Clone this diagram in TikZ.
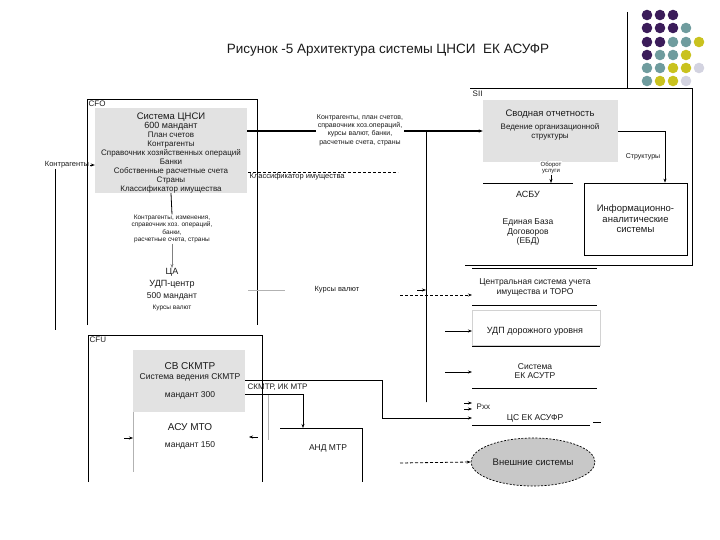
\documentclass[tikz,border=0pt]{standalone}
\usepackage{fontspec}
\setmainfont{Liberation Sans}
\usetikzlibrary{arrows.meta,shapes.geometric}
\definecolor{dpurple}{HTML}{3B1C5A}
\definecolor{dteal}{HTML}{6F9C9E}
\definecolor{dyellow}{HTML}{C9C21E}
\definecolor{dlight}{HTML}{D3D3E0}
\definecolor{boxgrey}{HTML}{E2E2E2}
\definecolor{extgrey}{HTML}{C8C8C8}
\definecolor{txt}{HTML}{1A1A1A}
\begin{document}
\begin{tikzpicture}[x=1pt,y=-1pt,
  tA/.style={font=\fontsize{13.5}{15}\selectfont},
  tTen/.style={font=\fontsize{10}{11.5}\selectfont},
  tNine/.style={font=\fontsize{9.5}{10.5}\selectfont},
  tNn/.style={font=\fontsize{9}{10}\selectfont},
  tEf/.style={font=\fontsize{8.5}{9.5}\selectfont},
  tE/.style={font=\fontsize{8}{9}\selectfont},
  tSf/.style={font=\fontsize{7.5}{8.5}\selectfont},
  tS/.style={font=\fontsize{7}{8.3}\selectfont},
  tSix/.style={font=\fontsize{6.5}{7.3}\selectfont},
  txtn/.style={inner sep=0.5pt, align=center, text=txt},
  gbox/.style={fill=boxgrey, draw=none, inner sep=0pt},
  ln/.style={draw=black, line width=0.8pt},
  faint/.style={draw=gray!60, line width=0.6pt},
  arr/.style={ln, -{Stealth[length=4pt,width=3pt]}},
  darr/.style={arr, dash pattern=on 3pt off 2pt},
  dotp/.style={fill=dpurple}, dott/.style={fill=dteal},
  doty/.style={fill=dyellow}, dotl/.style={fill=dlight}
]
\useasboundingbox (0,0) rectangle (720,540);

% decorative slide elements
\draw[ln] (627,12) -- (627,88);
\foreach \x/\y/\c in {647/15/dotp,660/15/dotp,673/15/dotp,
  647/28/dotp,660/28/dotp,673/28/dotp,686/28/dott,
  647/42/dotp,660/42/dotp,673/42/dott,686/42/dott,699/42/doty,
  647/55/dotp,660/55/dott,673/55/dott,686/55/doty,
  647/68/dott,660/68/dott,673/68/doty,686/68/doty,699/68/dotl,
  647/81/dott,660/81/doty,673/81/doty,686/81/dotl}
  {\fill[\c] (\x,\y) circle[radius=5.3pt];}

\node[tA,txtn] (title) at (388,50) {Рисунок -5 Архитектура системы ЦНСИ~~ЕК АСУФР};

% ---------- CFO ----------
\draw[ln] (87,325) -- (87,99) -- (257,99) -- (257,325);
\node[tE,txtn,anchor=west] (cfo) at (88,104) {CFO};
\node[gbox, minimum width=152pt, minimum height=85pt] (cnsi) at (171,150.5) {};
\node[txtn,font=\fontsize{8}{9}\selectfont] (cnsitxt) at (171,153)
 {{\fontsize{9.5}{10}\selectfont Система ЦНСИ}\\
  {\fontsize{9}{10}\selectfont 600 мандант}\\
  План счетов\\ Контрагенты\\ Справочник хозяйственных операций\\ Банки\\
  Собственные расчетные счета\\ Страны\\ Классификатор имущества};

\node[tSf,txtn] (kontrL) at (67,165) {Контрагенты};
\draw[arr] (kontrL.east) -- (cnsi.west |- kontrL.east);
\coordinate (lv0) at (55,169);
\coordinate (lv1) at (55,330);
\draw[ln, line width=0.6pt] (lv0) -- (lv1);

\node[tSix,txtn] (chg) at (172,229)
 {Контрагенты, изменения,\\справочник хоз. операций,\\банки,\\расчетные счета, страны};
\draw[ln] (cnsi.south) -- (chg.north);

\node[txtn] (ca) at (172,290)
 {{\fontsize{9}{10}\selectfont ЦА}\\[-0.5pt]
  {\fontsize{9}{10}\selectfont УДП-центр}\\[0.5pt]
  {\fontsize{8.5}{9.5}\selectfont 500 мандант}\\[-1pt]
  {\fontsize{6.5}{7.5}\selectfont Курсы валют}};
\draw[arr, draw=gray, line width=0.5pt] (chg.south) -- (ca.north);

\node[tS,txtn] (kontr) at (360,130)
 {Контрагенты, план счетов,\\справочник хоз.операций,\\курсы валют, банки,\\расчетные счета, страны};
\node[tSf,txtn,anchor=west] (klass) at (249,177) {Классификатор имущества};

\coordinate (k0) at (248,290);
\coordinate (k1) at (285,290);
\draw[faint] (k0) -- (k1);
\node[tSf,txtn] (kursy) at (337,290) {Курсы валют};

% ---------- SII ----------
\draw[ln] (470,88) -- (692,88) -- (692,265) -- (465,265);
\node[tE,txtn,anchor=west] (sii) at (472,94) {SII};
\node[gbox, minimum width=135pt, minimum height=62pt] (svod) at (550.5,131) {};
\node[tNine,txtn] (svod1) at (550,114) {Сводная отчетность};
\node[tE,txtn] (svod2) at (550,132) {Ведение организационной\\структуры};

\node[draw, line width=0.8pt, minimum width=103pt, minimum height=72pt, tNine, align=center, text=txt]
  (info) at (635.5,219) {Информационно-\\аналитические\\системы};
\coordinate (turn) at (665,131);
\draw[arr] (svod.east |- turn) -- (turn) -- (turn |- info.north);
\node[tS,txtn] (struct) at (643,157) {Структуры};

\coordinate (asbuL) at (483,183);
\coordinate (asbuR) at (573,183);
\draw[ln] (asbuL) -- (asbuR);
\node[font=\fontsize{6}{6.8}\selectfont,txtn,fill=white] (obor) at (551,168) {Оборот\\услуги};
\draw[arr, line width=0.5pt] (obor.south) -- (obor.south |- asbuL);
\node[tNn,txtn] (asbu) at (528,194) {АСБУ};
\node[tEf,txtn] (ebd) at (528,232) {Единая База\\Договоров\\(ЕБД)};

% ---------- right column ----------
\coordinate (r1a) at (472,268);
\coordinate (r1b) at (597,268);
\draw[ln] (r1a) -- (r1b);
\node[tEf,txtn] (central) at (535,287.5) {Центральная система учета\\имущества и ТОРО};
\coordinate (r2a) at (472,305);
\coordinate (r2b) at (597,305);
\draw[ln] (r2a) -- (r2b);

\node[draw=gray!35, line width=0.6pt, minimum width=128pt, minimum height=35pt, inner sep=0pt] (udpbox) at (536,327.5) {};
\node[tNn,txtn] (udp) at (535,331) {УДП дорожного уровня};
\coordinate (r3a) at (472,346);
\coordinate (r3b) at (600,346);
\draw[ln] (r3a) -- (r3b);

\node[tEf,txtn] (ekasutr) at (535,371) {Система\\ЕК АСУТР};
\coordinate (r4a) at (472,388);
\coordinate (r4b) at (597,388);
\draw[ln] (r4a) -- (r4b);

\node[tE,txtn,anchor=west] (pxx) at (476,407) {Pxx};
\node[tEf,txtn] (cs) at (535,418) {ЦС ЕК АСУФР};
\coordinate (r5a) at (472,425);
\coordinate (r5b) at (590,425);
\draw[ln] (r5a) -- (r5b);
\coordinate (r5c) at (593,422);
\coordinate (r5d) at (601,422);
\draw[ln] (r5c) -- (r5d);

\node[ellipse, draw, line width=0.7pt, dash pattern=on 2pt off 1.5pt, fill=extgrey,
  minimum width=124pt, minimum height=48pt, tNine, text=txt] (ext) at (533,462) {Внешние системы};

% ---------- CFU ----------
\draw[ln] (88,482) -- (88,335) -- (262,335) -- (262,482);
\node[tE,txtn,anchor=west] (cfu) at (89,340) {CFU};
\node[gbox, minimum width=112pt, minimum height=62pt] (skmtr) at (189,381) {};
\node[tTen,txtn] (skm1) at (190,366) {СВ СКМТР};
\node[tEf,txtn] (skm2) at (190,377) {Система ведения СКМТР};
\node[tEf,txtn] (skm3) at (190,395) {мандант 300};

\coordinate (mv0) at (133,412);
\coordinate (mv1) at (133,472);
\draw[faint] (mv0) -- (mv1);
\node[tTen,txtn] (asumto) at (190,427) {АСУ МТО};
\node[tEf,txtn] (m150) at (190,445) {мандант 150};
\coordinate (ma0) at (124,438);
\draw[arr, line width=0.5pt] (ma0) -- (ma0 -| mv0);
\coordinate (ma1) at (258,437);
\coordinate (ma2) at (249,437);
\draw[arr, line width=0.5pt] (ma1) -- (ma2);

\coordinate (and0) at (280,428);
\coordinate (and1) at (362,428);
\coordinate (and2) at (362,482);
\draw[ln] (and0) -- (and1) -- (and2);
\node[tEf,txtn] (andm) at (328,448) {АНД МТР};
\coordinate (g0) at (268,394);
\coordinate (g1) at (268,440);
\draw[faint] (g0) -- (g1);
\node[tE,txtn,anchor=west] (ikmtr) at (247,387) {СКМТР, ИК МТР};

% ---------- connectors ----------
\path (426,131) coordinate (busA) (426,402) coordinate (busB);
\coordinate (busM) at (426,290);
\coordinate (h1a) at (cnsi.east |- turn);
\coordinate (h1b) at (kontr.west |- turn);
\coordinate (h2a) at (kontr.east |- turn);
\coordinate (h2b) at (svod.west |- turn);
\draw[ln] (busA) -- (busM);
\draw[ln] (busM) -- (busB);
\fill[black] ([xshift=-0.5pt]busA) rectangle ([xshift=0.5pt]busB);
\node[draw=black, line width=0.8pt, inner sep=0pt, minimum width=0pt, minimum height=271pt] (busline) at (426,266.5) {};
\draw[ln] (h1a) -- (h1b);
\fill[black] ([yshift=-0.5pt]h1a) rectangle ([yshift=0.5pt]h1b);
\draw[ln] (h2a) -- (busA);
\draw[arr] (busA) -- (h2b);
\fill[black] ([yshift=-0.5pt]h2a) rectangle ([yshift=0.5pt,xshift=-3pt]h2b);

\coordinate (kla) at (248,172);
\coordinate (klb) at (398,172);
\draw[darr, -] (kla) -- (klb);

\coordinate (k2) at (417,290);
\draw[arr] (k2) -- (k2 -| busA);
\coordinate (d1) at (400,295);
\draw[darr] (d1) -- (d1 -| r1a);
\coordinate (u0) at (445,331);
\draw[arr] (u0) -- (u0 -| r1a);
\coordinate (u1) at (445,372);
\draw[arr] (u1) -- (u1 -| r1a);
\coordinate (p0) at (464,403);
\coordinate (p1) at (464,409);
\draw[arr, line width=0.5pt] (p0) -- (p0 -| r1a);
\draw[arr, line width=0.5pt] (p1) -- (p1 -| r1a);
\coordinate (e0) at (400,463);
\draw[darr] (e0) -- (ext.west);

\coordinate (s1) at (382,380);
\coordinate (s2) at (382,418);
\draw[arr] (skmtr.east |- s1) -- (s1) -- (s2) -- (s2 -| r1a);
\coordinate (a1) at (303,394);
\draw[arr] (skmtr.east |- a1) -- (a1) -- (a1 |- and0);

\end{tikzpicture}
\end{document}
